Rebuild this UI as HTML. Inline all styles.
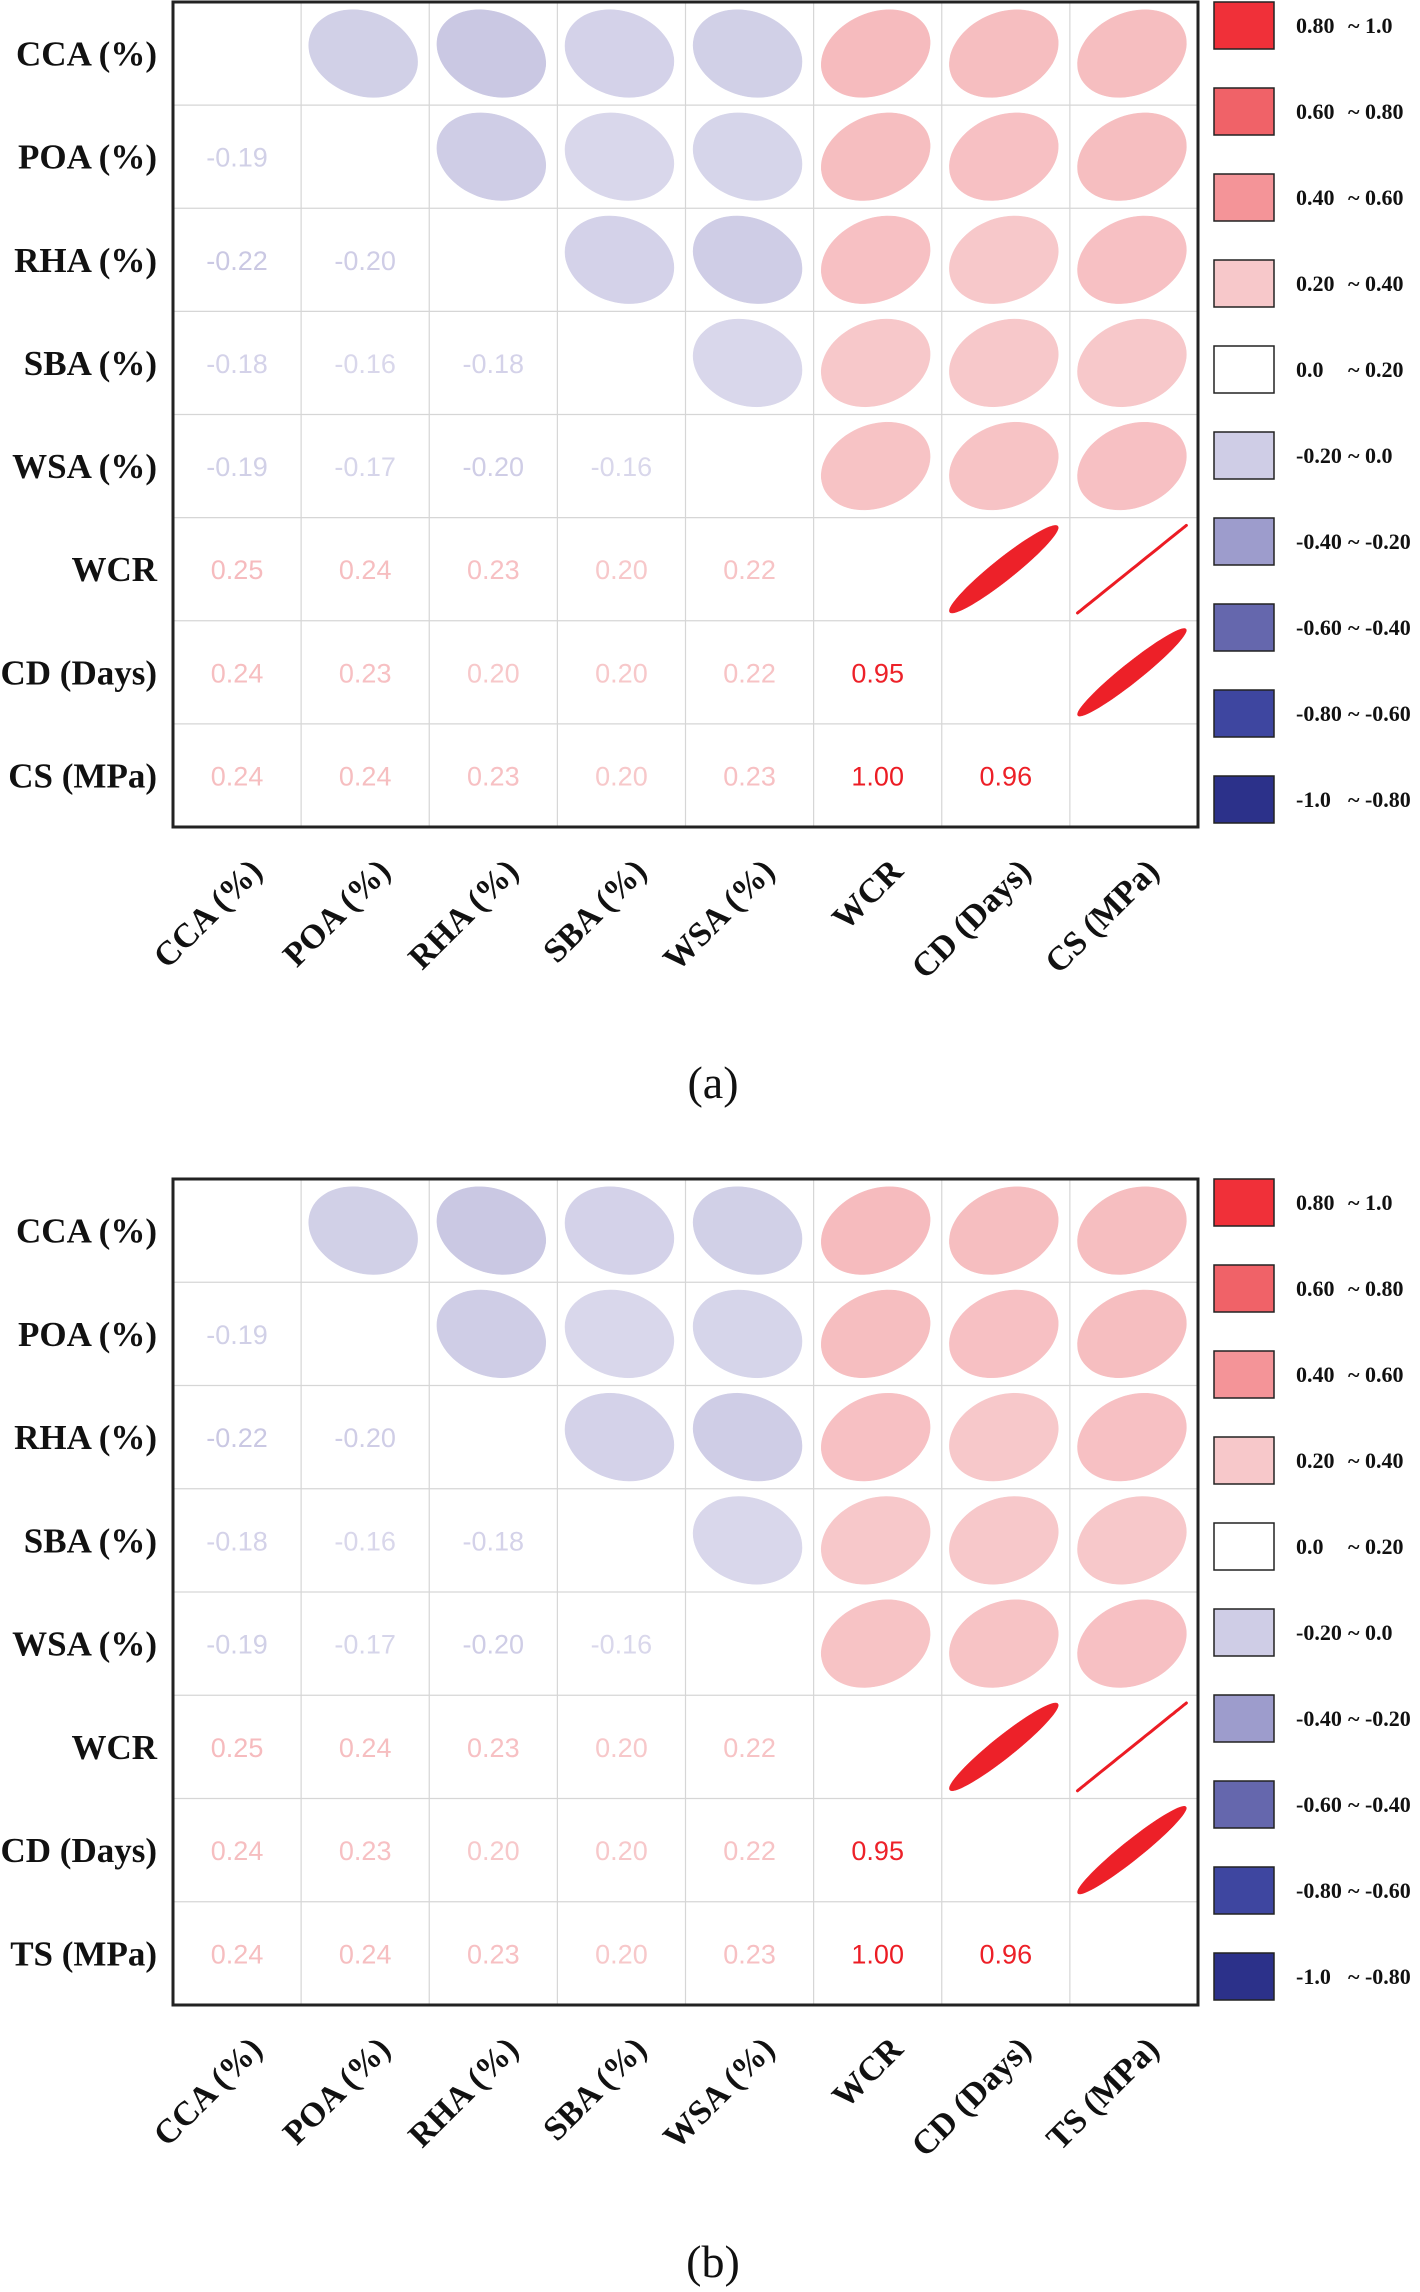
<!DOCTYPE html>
<html><head><meta charset="utf-8">
<style>
html,body{margin:0;padding:0;background:#fff;}
svg{display:block;}
.yl{font-family:"Liberation Serif",serif;font-weight:bold;font-size:35px;fill:#111;}
.xl{font-family:"Liberation Serif",serif;font-weight:bold;font-size:34px;fill:#111;}
.lg{font-family:"Liberation Serif",serif;font-weight:bold;font-size:22px;fill:#111;}
.num{font-family:"Liberation Sans",sans-serif;font-size:27px;}
.cap{font-family:"Liberation Serif",serif;font-size:46px;fill:#111;}
</style></head>
<body>
<svg id="chart" width="1420" height="2292" viewBox="0 0 1420 2292" xmlns="http://www.w3.org/2000/svg"></svg>
<script>
const varsA = ["CCA (%)","POA (%)","RHA (%)","SBA (%)","WSA (%)","WCR","CD (Days)","CS (MPa)"];
const varsB = ["CCA (%)","POA (%)","RHA (%)","SBA (%)","WSA (%)","WCR","CD (Days)","TS (MPa)"];
const lowerTri = [
  [],
  [-0.19],
  [-0.22,-0.20],
  [-0.18,-0.16,-0.18],
  [-0.19,-0.17,-0.20,-0.16],
  [0.25,0.24,0.23,0.20,0.22],
  [0.24,0.23,0.20,0.20,0.22,0.95],
  [0.24,0.24,0.23,0.20,0.23,1.00,0.96]
];
const legendLabels = [["0.80","~ 1.0"],["0.60","~ 0.80"],["0.40","~ 0.60"],["0.20","~ 0.40"],["0.0","~ 0.20"],["-0.20","~ 0.0"],["-0.40","~ -0.20"],["-0.60","~ -0.40"],["-0.80","~ -0.60"],["-1.0","~ -0.80"]];
const legendColors = ["#f03039","#f06268","#f49498","#f7c8ca","#ffffff","#cfcde6","#9d9ccc","#6567ad","#3e46a0","#2c318a"];

const NS="http://www.w3.org/2000/svg";
const svg=document.getElementById('chart');
function mk(tag,attrs,parent){const e=document.createElementNS(NS,tag);for(const k in attrs)e.setAttribute(k,attrs[k]);(parent||svg).appendChild(e);return e;}
const posStops=[[0,[255,255,255]],[0.2,[247,200,202]],[0.4,[244,148,152]],[0.6,[240,98,104]],[0.8,[240,48,57]],[1,[236,28,36]]];
const negStops=[[0,[255,255,255]],[0.2,[207,205,230]],[0.4,[157,156,204]],[0.6,[101,103,173]],[0.8,[62,70,160]],[1,[44,49,138]]];
function col(v){const st=v>=0?posStops:negStops;const a=Math.min(1,Math.abs(v));
  for(let i=1;i<st.length;i++){if(a<=st[i][0]){const t=(a-st[i-1][0])/(st[i][0]-st[i-1][0]);
    const c=st[i-1][1].map((x,j)=>Math.round(x+(st[i][1][j]-x)*t));return `rgb(${c.join(',')})`;}}
  return `rgb(${st[st.length-1][1].join(',')})`;}
function r(i,j){return i>j?lowerTri[i][j]:lowerTri[j][i];}

function panel(vars,top,bottom,cap,capY,pid){
  const L=173,R=1198,n=vars.length,cw=(R-L)/n,ch=(bottom-top)/n;
  const g=mk('g',{});
  
  
  mk('rect',{x:L,y:top,width:R-L,height:bottom-top,fill:'#fff'},g);
  for(let k=1;k<n;k++){
    mk('line',{x1:L+k*cw,y1:top,x2:L+k*cw,y2:bottom,stroke:'#d6d6d6','stroke-width':1.2},g);
    mk('line',{x1:L,y1:top+k*ch,x2:R,y2:top+k*ch,stroke:'#d6d6d6','stroke-width':1.2},g);
  }
  for(let i=0;i<n;i++)for(let j=0;j<n;j++){
    if(i===j)continue;
    const v=r(i,j),cx=L+(j+0.5)*cw,cy=top+(i+0.5)*ch;
    if(j>i){
      const d=Math.acos(Math.max(-1,Math.min(1,v)));const pts=[];
      for(let k=0;k<72;k++){const t=k/72*2*Math.PI;
        const x=Math.cos(t+d/2),y=Math.cos(t-d/2);
        pts.push((cx-2+x*cw*0.425).toFixed(1)+','+(cy-y*ch*0.425).toFixed(1));}
      const e=mk('polygon',{points:pts.join(' '),fill:col(v),stroke:col(v),'stroke-width':v>=0.99?3:0.5,'stroke-linejoin':'round'},g);
      
      
    } else {
      const t=mk('text',{x:cx,y:cy+10,'text-anchor':'middle',class:'num',fill:col(v)},g);
      t.textContent=v.toFixed(2);
      
      
    }
  }
  mk('rect',{x:L,y:top,width:R-L,height:bottom-top,fill:'none',stroke:'#222','stroke-width':3},g);
  vars.forEach((name,i)=>{
    const t=mk('text',{x:157,y:top+(i+0.5)*ch+12,'text-anchor':'end',class:'yl'},g);
    t.textContent=name;
    
    
    const x=L+(i+0.5)*cw+27,y=bottom+46;
    const u=mk('text',{x:x,y:y,'text-anchor':'end',class:'xl',transform:`rotate(-45 ${x} ${y})`},g);
    u.textContent=name;
    
    
  });
  legendLabels.forEach((lab,k)=>{
    const y=top+k*86;
    const s=mk('rect',{x:1214,y:y,width:60,height:47,fill:legendColors[k],stroke:'#222','stroke-width':1.5},g);
    
    
    const a=mk('text',{x:1296,y:y+31,class:'lg'},g);a.textContent=lab[0];
    
    
    const b=mk('text',{x:1348,y:y+31,class:'lg'},g);b.textContent=lab[1];
    
    
  });
  const c=mk('text',{x:713,y:capY,'text-anchor':'middle',class:'cap'},g);
  c.textContent=cap;
  
  
}
panel(varsA,2,827,'(a)',1098,'panel-a');
panel(varsB,1179,2005,'(b)',2277,'panel-b');
</script>
</body></html>
